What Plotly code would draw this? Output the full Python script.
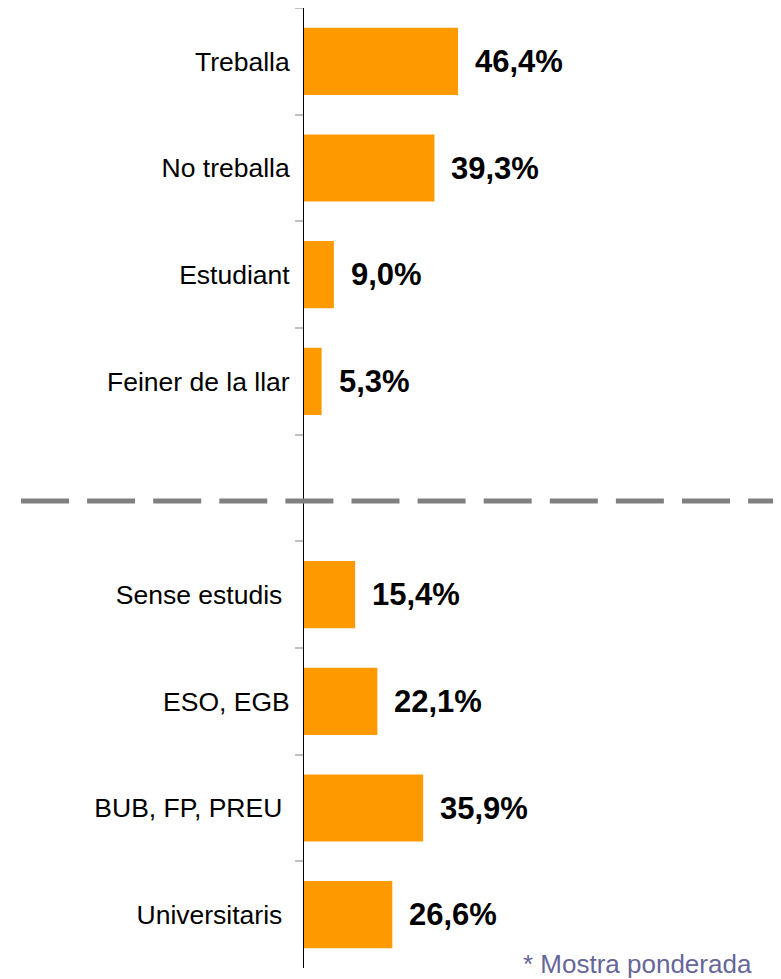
import plotly.graph_objects as go

categories = ["Treballa", "No treballa", "Estudiant", "Feiner de la llar", " ",
              "Sense estudis\u00a0", "ESO, EGB", "BUB, FP, PREU\u00a0", "Universitaris\u00a0"]
values = [46.4, 39.3, 9.0, 5.3, None, 15.4, 22.1, 35.9, 26.6]
value_labels = ["46,4%", "39,3%", "9,0%", "5,3%", "", "15,4%", "22,1%", "35,9%", "26,6%"]
note = "* Mostra ponderada"

# page body has an 8px margin, so the figure sits at (8, 8)
W, H = 773, 971
L, R, T, B = 296, 0, 0, 11
plot_w = W - L - R
plot_h = H - T - B
FONT = "Liberation Sans, Arial, sans-serif"

fig = go.Figure()
fig.add_trace(go.Bar(
    x=values, y=categories, orientation="h",
    marker=dict(color="#FF9900", line=dict(width=0)),
    width=0.63, hoverinfo="skip",
))

for c, v, t in zip(categories, values, value_labels):
    if v is None:
        continue
    fig.add_annotation(x=v, y=c, xref="x", yref="y", text="<b>" + t + "</b>", showarrow=False,
                       xanchor="left", yanchor="middle", xshift=15,
                       font=dict(family=FONT, size=31, color="black"))

fig.add_shape(type="line", xref="paper", yref="paper",
              x0=(13 - L) / plot_w, x1=1.03, y0=(960 - 493) / plot_h, y1=(960 - 493) / plot_h,
              line=dict(color="#808080", width=5, dash="48px,18.1px"))

fig.add_annotation(x=(746 - L) / plot_w, y=0, xref="paper", yref="paper", text=note,
                   showarrow=False, xanchor="right", yanchor="middle", yshift=4,
                   font=dict(family=FONT, size=26, color="#666699"))

fig.update_layout(
    width=W, height=H,
    margin=dict(l=L, r=R, t=T, b=B),
    paper_bgcolor="white", plot_bgcolor="white",
    showlegend=False,
    xaxis=dict(visible=False, range=[0, plot_w / 3.32]),
    yaxis=dict(
        type="category", categoryorder="array", categoryarray=categories,
        range=[8.5, -0.5], showline=True, linecolor="black", linewidth=1,
        ticks="outside", tickson="boundaries", ticklen=8, tickcolor="#c0c0c0", tickwidth=1.5,
        showgrid=False, zeroline=False,
        tickfont=dict(family=FONT, size=26.5, color="black"),
        ticklabelstandoff=8,
    ),
)

fig.write_html("out.html")
